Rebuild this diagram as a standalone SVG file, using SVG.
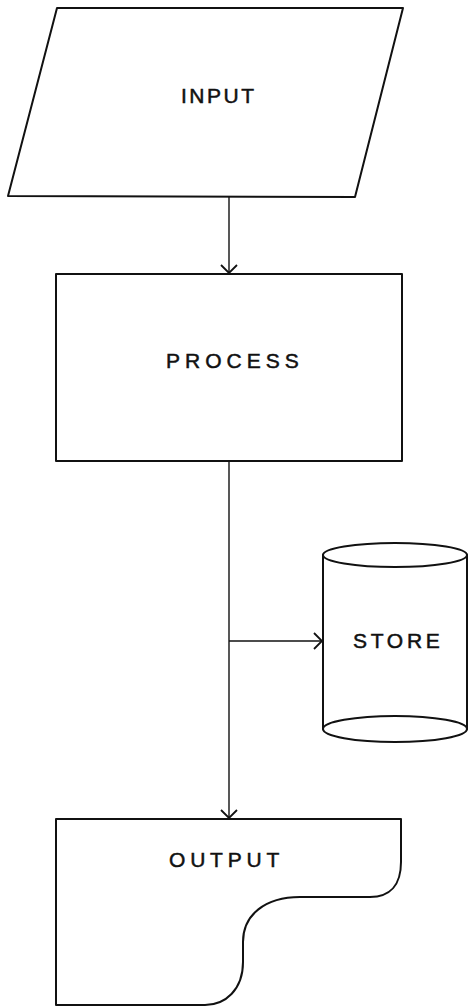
<svg xmlns="http://www.w3.org/2000/svg" width="468" height="1008" viewBox="0 0 468 1008">
  <style>
    .shape { fill: none; stroke: #111; stroke-width: 2; stroke-linejoin: round; stroke-linecap: round; }
    .wire { fill: none; stroke: #111; stroke-width: 1.4; }
    .label { font-family: "Liberation Sans", Arial, sans-serif; font-size: 21px; fill: #111; stroke: #111; stroke-width: 0.5; }
  </style>
  <defs>
    <!-- open chevron arrowhead, wide and shallow like a pen stroke -->
    <marker id="arrow" viewBox="0 0 10 20" refX="9" refY="10" markerWidth="10" markerHeight="20" markerUnits="userSpaceOnUse" orient="auto">
      <path d="M1 2 L9 10 L1 18" fill="none" stroke="#111" stroke-width="1.8"/>
    </marker>
  </defs>
  <rect width="468" height="1008" fill="#fff"/>

  <g id="connectors">
    <line class="wire" x1="229" y1="197" x2="229" y2="273" marker-end="url(#arrow)"/>
    <line class="wire" x1="229" y1="461" x2="229" y2="818" marker-end="url(#arrow)"/>
    <line class="wire" x1="229" y1="641" x2="322" y2="641" stroke-width="2" marker-end="url(#arrow)"/>
  </g>

  <g id="input">
    <path class="shape" d="M57 8 L403 8 L355 197 L8 196 Z"/>
    <text class="label" x="181" y="103" font-size="22" letter-spacing="2.5">INPUT</text>
  </g>

  <g id="process">
    <rect class="shape" x="56" y="274" width="346" height="187"/>
    <text class="label" x="166" y="368" letter-spacing="5">PROCESS</text>
  </g>

  <g id="store">
    <path class="shape" d="M323 555 L323 729 M467 555 L467 729"/>
    <ellipse class="shape" cx="395" cy="555" rx="72" ry="12"/>
    <ellipse class="shape" cx="395" cy="729" rx="72" ry="13"/>
    <text class="label" x="353" y="648" letter-spacing="3.7">STORE</text>
  </g>

  <g id="output">
    <path class="shape" d="M56 819 L401 819 L401 862 C401 885 390 897 370 897 L300 897 C265 897 243 915 243 942 L243 962 C243 990 225 1005 205 1005 L56 1005 Z"/>
    <text class="label" x="169" y="867" letter-spacing="4.8">OUTPUT</text>
  </g>
</svg>
